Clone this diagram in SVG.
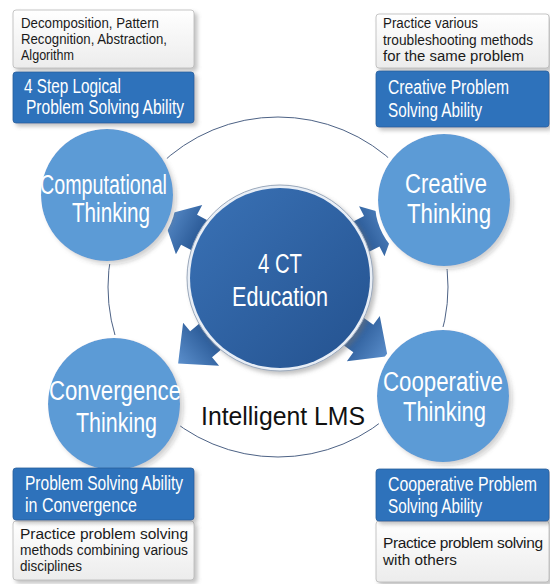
<svg xmlns="http://www.w3.org/2000/svg" width="550" height="584" viewBox="0 0 550 584">
<style>
.bt{font-family:"Liberation Sans",Arial,sans-serif;font-size:20px;fill:#ffffff}
.wt{font-family:"Liberation Sans",Arial,sans-serif;font-size:15.5px;fill:#1a1a1a}
.ct{font-family:"Liberation Sans",Arial,sans-serif;font-size:27px;fill:#ffffff}
.blue{fill:#2f72bb;stroke:#2a5f9c;stroke-width:0.8}
.white{fill:url(#wg);stroke:#b8b8b8;stroke-width:0.8}
.small{fill:#5b9bd6}
</style>
<defs>
<linearGradient id="wg" x1="0" y1="0" x2="0" y2="1">
<stop offset="0" stop-color="#ffffff"/><stop offset="1" stop-color="#ececec"/>
</linearGradient>
<linearGradient id="cg" x1="0" y1="0" x2="1" y2="1">
<stop offset="0" stop-color="#3a72b6"/><stop offset="1" stop-color="#24528f"/>
</linearGradient>
<linearGradient id="ag" x1="0" y1="0" x2="1" y2="0">
<stop offset="0.4" stop-color="#2f5f9c"/><stop offset="1" stop-color="#5b8fcc"/>
</linearGradient>
<filter id="sh" x="-20%" y="-20%" width="150%" height="150%">
<feDropShadow dx="3" dy="3" stdDeviation="2" flood-color="#777" flood-opacity="0.45"/>
</filter>
<filter id="halo" x="-20%" y="-20%" width="150%" height="150%">
<feMorphology in="SourceAlpha" operator="dilate" radius="3" result="d"/>
<feFlood flood-color="#ffffff"/>
<feComposite in2="d" operator="in" result="w"/>
<feDropShadow in="SourceGraphic" dx="3" dy="3" stdDeviation="2" flood-color="#777" flood-opacity="0.45" result="s"/>
<feMerge><feMergeNode in="w"/><feMergeNode in="s"/></feMerge>
</filter>
<polygon id="arr" points="70,-17 103,-17 103,-28 133,0 103,28 103,17 70,17" fill="url(#ag)"/>
</defs>
<rect width="550" height="584" fill="#ffffff"/>
<circle cx="278" cy="287" r="170" fill="none" stroke="#4d6285" stroke-width="1"/>
<g id="connectors">
<use href="#arr" transform="translate(280,278) rotate(208)"/>
<use href="#arr" transform="translate(280,278) rotate(-27)"/>
<use href="#arr" transform="translate(280,278) rotate(140)"/>
<use href="#arr" transform="translate(280,278) rotate(36)"/>
</g>
<g id="center">
<circle cx="280" cy="278" r="93" fill="#e8eef6" stroke="#9aa8bb" stroke-width="1" filter="url(#sh)"/>
<circle cx="280" cy="278" r="90" fill="url(#cg)"/>
<text class="ct" x="280" y="273" text-anchor="middle" font-size="25" textLength="44" lengthAdjust="spacingAndGlyphs">4 CT</text>
<text class="ct" x="280" y="306" text-anchor="middle" font-size="25" textLength="96" lengthAdjust="spacingAndGlyphs">Education</text>
</g>
<g id="computational">
<circle class="small" cx="107" cy="195" r="66" filter="url(#halo)"/>
<text class="ct" x="103.5" y="194" text-anchor="middle" textLength="127" lengthAdjust="spacingAndGlyphs">Computational</text>
<text class="ct" x="111" y="222" text-anchor="middle" textLength="78" lengthAdjust="spacingAndGlyphs">Thinking</text>
</g>
<g id="creative">
<circle class="small" cx="444" cy="200" r="66" filter="url(#halo)"/>
<text class="ct" x="446" y="193" text-anchor="middle" textLength="82" lengthAdjust="spacingAndGlyphs">Creative</text>
<text class="ct" x="449" y="223" text-anchor="middle" textLength="84" lengthAdjust="spacingAndGlyphs">Thinking</text>
</g>
<g id="convergence">
<circle class="small" cx="114" cy="404" r="66" filter="url(#halo)"/>
<text class="ct" x="115" y="400" text-anchor="middle" textLength="132" lengthAdjust="spacingAndGlyphs">Convergence</text>
<text class="ct" x="116.5" y="432" text-anchor="middle" textLength="81" lengthAdjust="spacingAndGlyphs">Thinking</text>
</g>
<g id="cooperative">
<circle class="small" cx="443" cy="396" r="66" filter="url(#halo)"/>
<text class="ct" x="443" y="391" text-anchor="middle" textLength="120" lengthAdjust="spacingAndGlyphs">Cooperative</text>
<text class="ct" x="444.5" y="421" text-anchor="middle" textLength="83" lengthAdjust="spacingAndGlyphs">Thinking</text>
</g>
<g id="lms">
<text x="283" y="425" text-anchor="middle" font-family="Liberation Sans,Arial,sans-serif" font-size="25" fill="#111" textLength="164" lengthAdjust="spacingAndGlyphs">Intelligent LMS</text>
</g>
<g id="box-tl">
<rect class="white" x="13" y="10" width="181" height="58" rx="3" filter="url(#sh)"/>
<text class="wt" x="21" y="28" textLength="138" lengthAdjust="spacingAndGlyphs">Decomposition, Pattern</text>
<text class="wt" x="21" y="44" textLength="146" lengthAdjust="spacingAndGlyphs">Recognition, Abstraction,</text>
<text class="wt" x="21" y="60" textLength="53" lengthAdjust="spacingAndGlyphs">Algorithm</text>
<rect class="blue" x="13" y="72" width="181" height="51" rx="3" filter="url(#sh)"/>
<text class="bt" x="24" y="93" textLength="97" lengthAdjust="spacingAndGlyphs">4 Step Logical</text>
<text class="bt" x="26" y="114" textLength="158" lengthAdjust="spacingAndGlyphs">Problem Solving Ability</text>
</g>
<g id="box-tr">
<rect class="white" x="376" y="14" width="173" height="54" rx="3" filter="url(#sh)"/>
<text class="wt" x="383" y="28" textLength="95" lengthAdjust="spacingAndGlyphs">Practice various</text>
<text class="wt" x="383" y="45" textLength="150" lengthAdjust="spacingAndGlyphs">troubleshooting methods</text>
<text class="wt" x="383" y="61" textLength="141" lengthAdjust="spacingAndGlyphs">for the same problem</text>
<rect class="blue" x="376" y="71" width="173" height="56" rx="3" filter="url(#sh)"/>
<text class="bt" x="388" y="94" textLength="121" lengthAdjust="spacingAndGlyphs">Creative Problem</text>
<text class="bt" x="388" y="117" textLength="94" lengthAdjust="spacingAndGlyphs">Solving Ability</text>
</g>
<g id="box-bl">
<rect class="white" x="13" y="521" width="181" height="59" rx="3" filter="url(#sh)"/>
<text class="wt" x="20" y="539" textLength="168" lengthAdjust="spacing">Practice problem solving</text>
<text class="wt" x="20" y="555" textLength="168" lengthAdjust="spacingAndGlyphs">methods combining various</text>
<text class="wt" x="20" y="571" textLength="62" lengthAdjust="spacingAndGlyphs">disciplines</text>
<rect class="blue" x="13" y="468" width="181" height="52" rx="3" filter="url(#sh)"/>
<text class="bt" x="25" y="490" textLength="158" lengthAdjust="spacingAndGlyphs">Problem Solving Ability</text>
<text class="bt" x="25" y="512" textLength="112" lengthAdjust="spacingAndGlyphs">in Convergence</text>
</g>
<g id="box-br">
<rect class="white" x="376" y="521" width="173" height="61" rx="3" filter="url(#sh)"/>
<text class="wt" x="383" y="548" textLength="160" lengthAdjust="spacing">Practice problem solving</text>
<text class="wt" x="383" y="565" textLength="74" lengthAdjust="spacingAndGlyphs">with others</text>
<rect class="blue" x="376" y="469" width="173" height="52" rx="3" filter="url(#sh)"/>
<text class="bt" x="388" y="491" textLength="149" lengthAdjust="spacingAndGlyphs">Cooperative Problem</text>
<text class="bt" x="388" y="513" textLength="94" lengthAdjust="spacingAndGlyphs">Solving Ability</text>
</g>
</svg>
